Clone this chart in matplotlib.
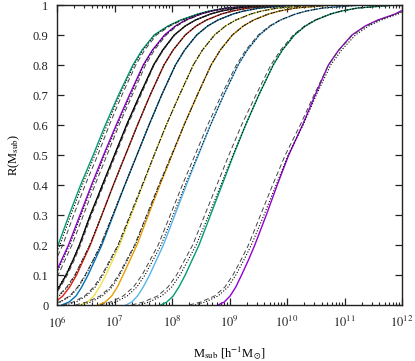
import numpy as np
import matplotlib
matplotlib.use('Agg')
import matplotlib.pyplot as plt

plt.rcParams['font.family'] = ['Liberation Serif', 'DejaVu Serif']
plt.rcParams['mathtext.fontset'] = 'stix'

# уровни R, на которых сняты значения log10(M_sub)
r_levels = [0, 0.01, 0.03, 0.06, 0.1, 0.15, 0.2, 0.3, 0.4, 0.5, 0.6,
            0.7, 0.8, 0.85, 0.9, 0.93, 0.95, 0.97, 0.98, 0.99, 1.0]

colors = ['#009e73', '#9400d3', 'black', '#e51e10', '#0072b2',
          '#f0e442', '#e69f00', '#56b4e9', '#009e73', '#9400d3']

# сплошные линии: log10(M) на каждом уровне R
solid_logm = [
    [5.33, 5.46, 5.57, 5.67, 5.78, 5.90, 6.02, 6.21, 6.41, 6.63, 6.84, 7.07, 7.32, 7.48, 7.69, 7.93, 8.15, 8.45, 8.65, 8.95, 9.6],
    [5.51, 5.64, 5.75, 5.85, 5.96, 6.08, 6.20, 6.40, 6.60, 6.81, 7.03, 7.26, 7.50, 7.66, 7.87, 8.06, 8.24, 8.50, 8.69, 8.97, 9.6],
    [5.70, 5.83, 5.94, 6.04, 6.16, 6.28, 6.39, 6.58, 6.79, 7.00, 7.21, 7.44, 7.68, 7.84, 8.04, 8.23, 8.41, 8.67, 8.86, 9.14, 9.8],
    [5.85, 5.97, 6.10, 6.22, 6.34, 6.46, 6.58, 6.78, 6.98, 7.19, 7.40, 7.62, 7.86, 8.02, 8.23, 8.42, 8.60, 8.86, 9.05, 9.33, 10.0],
    [6.08, 6.21, 6.33, 6.43, 6.54, 6.66, 6.78, 6.98, 7.18, 7.39, 7.60, 7.82, 8.06, 8.22, 8.43, 8.62, 8.80, 9.06, 9.25, 9.53, 10.2],
    [6.40, 6.53, 6.64, 6.74, 6.85, 6.97, 7.09, 7.29, 7.49, 7.69, 7.90, 8.13, 8.37, 8.53, 8.74, 8.93, 9.11, 9.37, 9.56, 9.84, 10.5],
    [6.72, 6.84, 6.95, 7.05, 7.15, 7.27, 7.39, 7.59, 7.79, 8.00, 8.21, 8.44, 8.68, 8.84, 9.05, 9.24, 9.42, 9.68, 9.87, 10.15, 10.8],
    [7.20, 7.30, 7.40, 7.50, 7.61, 7.73, 7.85, 8.05, 8.25, 8.46, 8.67, 8.90, 9.15, 9.31, 9.52, 9.71, 9.89, 10.15, 10.34, 10.62, 11.3],
    [7.80, 7.91, 8.02, 8.12, 8.23, 8.35, 8.47, 8.67, 8.87, 9.07, 9.28, 9.51, 9.76, 9.92, 10.13, 10.32, 10.50, 10.76, 10.95, 11.23, 11.9],
    [8.80, 8.91, 9.01, 9.11, 9.21, 9.33, 9.44, 9.64, 9.83, 10.03, 10.27, 10.49, 10.72, 10.90, 11.13, 11.36, 11.58, 11.88, 11.98, 12.35, 13.0],
]

# сдвиг штриховых линий относительно сплошных (в декадах)
dashed_shift = [
    [0.08, 0.08, 0.08, 0.08, 0.08, 0.08, 0.08, 0.08, 0.08, 0.08, 0.07, 0.06, 0.05, 0.045, 0.04, 0.035, 0.03, 0.025, 0.02, 0.01, 0],
    [0.06, 0.06, 0.06, 0.06, 0.06, 0.06, 0.06, 0.06, 0.06, 0.06, 0.05, 0.05, 0.04, 0.035, 0.03, 0.025, 0.02, 0.015, 0.01, 0.005, 0],
    [0, 0.005, 0.015, 0.02, 0.02, 0.02, 0.02, 0.02, 0.02, 0.02, 0.02, 0.02, 0.01, 0.01, 0.01, 0, 0, 0, 0, 0, 0],
    [-0.15, -0.12, -0.08, -0.05, -0.03, -0.02, -0.01, 0, 0, 0, 0, 0, 0, 0, 0, 0, 0, 0, 0, 0, 0],
    [-0.20, -0.17, -0.11, -0.07, -0.05, -0.03, -0.02, -0.01, 0, 0, 0, 0, 0, 0, 0, 0, 0, 0, 0, 0, 0],
    [-0.30, -0.25, -0.16, -0.10, -0.07, -0.05, -0.03, -0.02, -0.01, 0, 0, 0, 0, 0, 0, 0, 0, 0, 0, 0, 0],
    [-0.40, -0.32, -0.20, -0.12, -0.08, -0.06, -0.04, -0.03, -0.02, -0.01, 0, 0, 0, 0, 0, 0, 0, 0, 0, 0, 0],
    [-0.45, -0.37, -0.25, -0.17, -0.13, -0.11, -0.09, -0.08, -0.07, -0.06, -0.05, -0.04, -0.03, -0.025, -0.02, -0.015, -0.01, -0.005, 0, 0, 0],
    [-0.50, -0.41, -0.27, -0.19, -0.15, -0.13, -0.11, -0.10, -0.09, -0.08, -0.07, -0.05, -0.04, -0.03, -0.02, -0.015, -0.01, -0.005, 0, 0, 0],
    [-0.50, -0.41, -0.27, -0.19, -0.15, -0.13, -0.11, -0.10, -0.08, -0.06, -0.04, -0.02, 0, 0.005, 0.01, 0.015, 0.02, 0.02, 0.02, 0.01, 0],
]

# сдвиг пунктирных линий
dotted_shift = [
    [0.03, 0.03, 0.03, 0.03, 0.03, 0.03, 0.03, 0.03, 0.03, 0.03, 0.03, 0.02, 0.02, 0.015, 0.01, 0.01, 0.01, 0.005, 0, 0, 0],
    [0.02, 0.02, 0.02, 0.02, 0.02, 0.02, 0.02, 0.02, 0.02, 0.02, 0.02, 0.02, 0.01, 0.01, 0.01, 0.005, 0, 0, 0, 0, 0],
    [-0.05, -0.04, -0.025, -0.015, -0.01, -0.005, 0, 0, 0, 0, 0, 0, 0, 0, 0, 0, 0, 0, 0, 0, 0],
    [-0.12, -0.10, -0.065, -0.035, -0.02, -0.015, -0.01, 0, 0, 0, 0, 0, 0, 0, 0, 0, 0, 0, 0, 0, 0],
    [-0.18, -0.15, -0.095, -0.055, -0.04, -0.03, -0.02, -0.01, 0, 0, 0, 0, 0, 0, 0, 0, 0, 0, 0, 0, 0],
    [-0.25, -0.20, -0.13, -0.075, -0.05, -0.035, -0.02, -0.01, 0, 0, 0, 0, 0, 0, 0, 0, 0, 0, 0, 0, 0],
    [-0.30, -0.25, -0.16, -0.09, -0.06, -0.045, -0.03, -0.02, -0.01, 0, 0, 0, 0, 0, 0, 0, 0, 0, 0, 0, 0],
    [-0.35, -0.28, -0.18, -0.11, -0.08, -0.06, -0.04, -0.03, -0.02, -0.01, 0, 0, 0, 0, 0, 0, 0, 0, 0, 0, 0],
    [-0.38, -0.31, -0.20, -0.125, -0.09, -0.07, -0.05, -0.03, -0.02, -0.01, 0, 0, 0, 0, 0, 0, 0, 0, 0, 0, 0],
    [-0.40, -0.33, -0.21, -0.135, -0.10, -0.08, -0.06, -0.04, -0.02, -0.01, 0.01, 0.02, 0.04, 0.05, 0.06, 0.06, 0.06, 0.055, 0.05, 0.03, 0],
]

fig = plt.figure(figsize=(4.15, 3.61), dpi=100)
ax = fig.add_axes([57 / 415, 56 / 361, 345 / 415, 300 / 361])

for i in range(len(solid_logm)):
    lm = np.array(solid_logm[i])
    ax.plot(10 ** lm, r_levels, color=colors[i], lw=1.0)
for i in range(len(solid_logm)):
    lm = np.array(solid_logm[i]) + np.array(dashed_shift[i])
    ax.plot(10 ** lm, r_levels, color='#444444', lw=0.7, dashes=(5, 3))
    lm = np.array(solid_logm[i]) + np.array(dotted_shift[i])
    ax.plot(10 ** lm, r_levels, color='black', lw=0.8, dashes=(1, 1.6))

ax.set_xscale('log')
ax.set_xlim(1e6, 1e12)
ax.set_ylim(0, 1)
ax.set_xticks([10 ** k for k in range(6, 13)])
ax.set_xticklabels(['$10^{%d}$' % k for k in range(6, 13)])
ax.set_yticks(np.arange(0, 1.01, 0.1))
ax.set_yticklabels(['0', '0.1', '0.2', '0.3', '0.4', '0.5', '0.6', '0.7', '0.8', '0.9', '1'])
ax.tick_params(which='both', direction='in', top=True, right=True, labelsize=9, colors='#222222')
ax.tick_params(which='major', length=5, width=0.9)
ax.tick_params(which='minor', length=2.5, width=0.8)
ax.tick_params(axis='x', which='major', pad=7)
ax.tick_params(axis='y', which='major', pad=6)
for s in ax.spines.values():
    s.set_linewidth(1.0)
    s.set_color('#222222')

ax.set_xlabel(r'M$_{\rm sub}$ [h$^{-1}$M$_{\odot}$]', fontsize=9, labelpad=10)
ax.set_ylabel(r'R(M$_{\rm sub}$)', fontsize=9, labelpad=8)

plt.savefig('out.png', dpi=100)
